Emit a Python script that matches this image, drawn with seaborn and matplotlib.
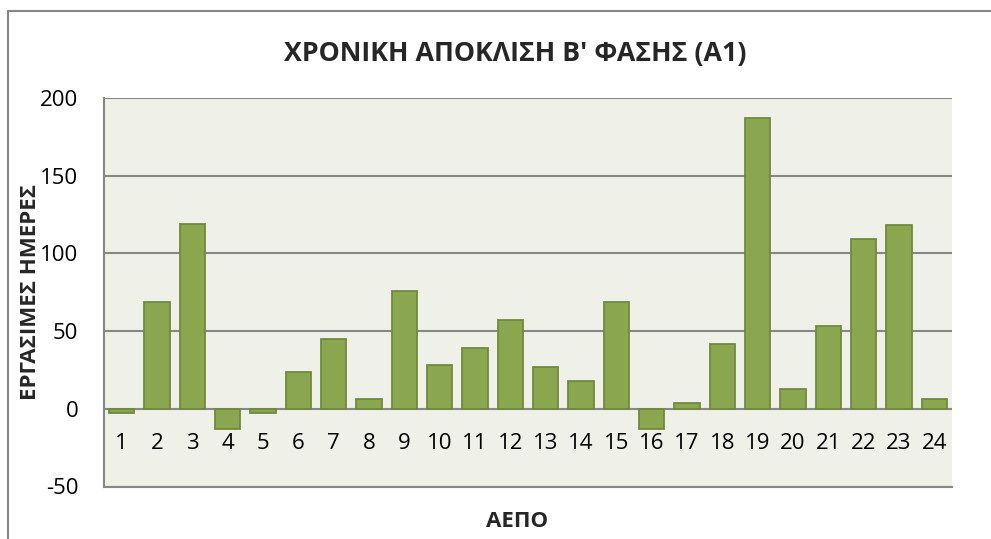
import matplotlib
matplotlib.use('Agg')
import matplotlib.pyplot as plt
from matplotlib.lines import Line2D
import seaborn as sns
import pandas as pd

# Chart data
aepo = [str(i) for i in range(1, 25)]
days = [-3, 69, 119, -13, -3, 24, 45, 6, 76, 28, 39, 57,
        27, 18, 69, -13, 4, 42, 187, 13, 53, 109, 118, 6]
yticks = [-50, 0, 50, 100, 150, 200]

title = "ΧΡΟΝΙΚΗ ΑΠΟΚΛΙΣΗ Β' ΦΑΣΗΣ (Α1)"
xlabel = "ΑΕΠΟ"
ylabel = "ΕΡΓΑΣΙΜΕΣ ΗΜΕΡΕΣ"

df = pd.DataFrame({'aepo': aepo, 'days': days})

sns.set_theme(style='white')
plt.rcParams['font.family'] = ['Open Sans', 'DejaVu Sans']

W, H = 991, 539
fig = plt.figure(figsize=(W / 100, H / 100), dpi=100)
ax = fig.add_axes([104 / W, (H - 486.5) / H, (952 - 104) / W, (486.5 - 98) / H])

grey = '#878787'
ax.set_facecolor('#eff1e8')

sns.barplot(data=df, x='aepo', y='days', order=aepo, color='#8aa64e',
            saturation=1, width=0.71, edgecolor='#71893f', linewidth=1.3, ax=ax)

ax.set_ylim(-50, 200)
ax.set_xlim(-0.5, len(aepo) - 0.5)
ax.set_yticks(yticks)
ax.set_yticklabels([str(v) for v in yticks])
ax.set_axisbelow(True)
ax.yaxis.grid(True, color=grey, linewidth=1.5)
ax.xaxis.grid(False)

for side in ['left', 'bottom']:
    ax.spines[side].set_color(grey)
    ax.spines[side].set_linewidth(1.5)
ax.spines['right'].set_visible(False)
ax.spines['top'].set_visible(False)

ax.tick_params(axis='y', length=0, pad=18.5, labelsize=16, labelcolor='black')
ax.tick_params(axis='x', length=0, pad=-31.3, labelsize=16, labelcolor='black')
for lbl in ax.get_xticklabels():
    lbl.set_va('center')

ax.set_xlabel(xlabel, fontsize=16, fontweight='bold', va='center')
ax.xaxis.set_label_coords((517 - 104) / 848, -0.091)
ax.set_ylabel(ylabel, fontsize=16, fontweight='bold', va='center')
ax.yaxis.set_label_coords(-0.087, 0.5)

fig.text(515 / W, 1 - 54 / H, title, ha='center', va='center',
         fontsize=19.3, fontweight='bold')

# outer chart-area frame (top and left edges visible in the reference)
fig.add_artist(Line2D([8 / W, 8 / W], [0, 1 - 10.5 / H], transform=fig.transFigure,
                      color=grey, linewidth=1.5))
fig.add_artist(Line2D([8 / W, 1], [1 - 10.5 / H, 1 - 10.5 / H], transform=fig.transFigure,
                      color=grey, linewidth=1.5))

fig.savefig('out.png', dpi=100)
